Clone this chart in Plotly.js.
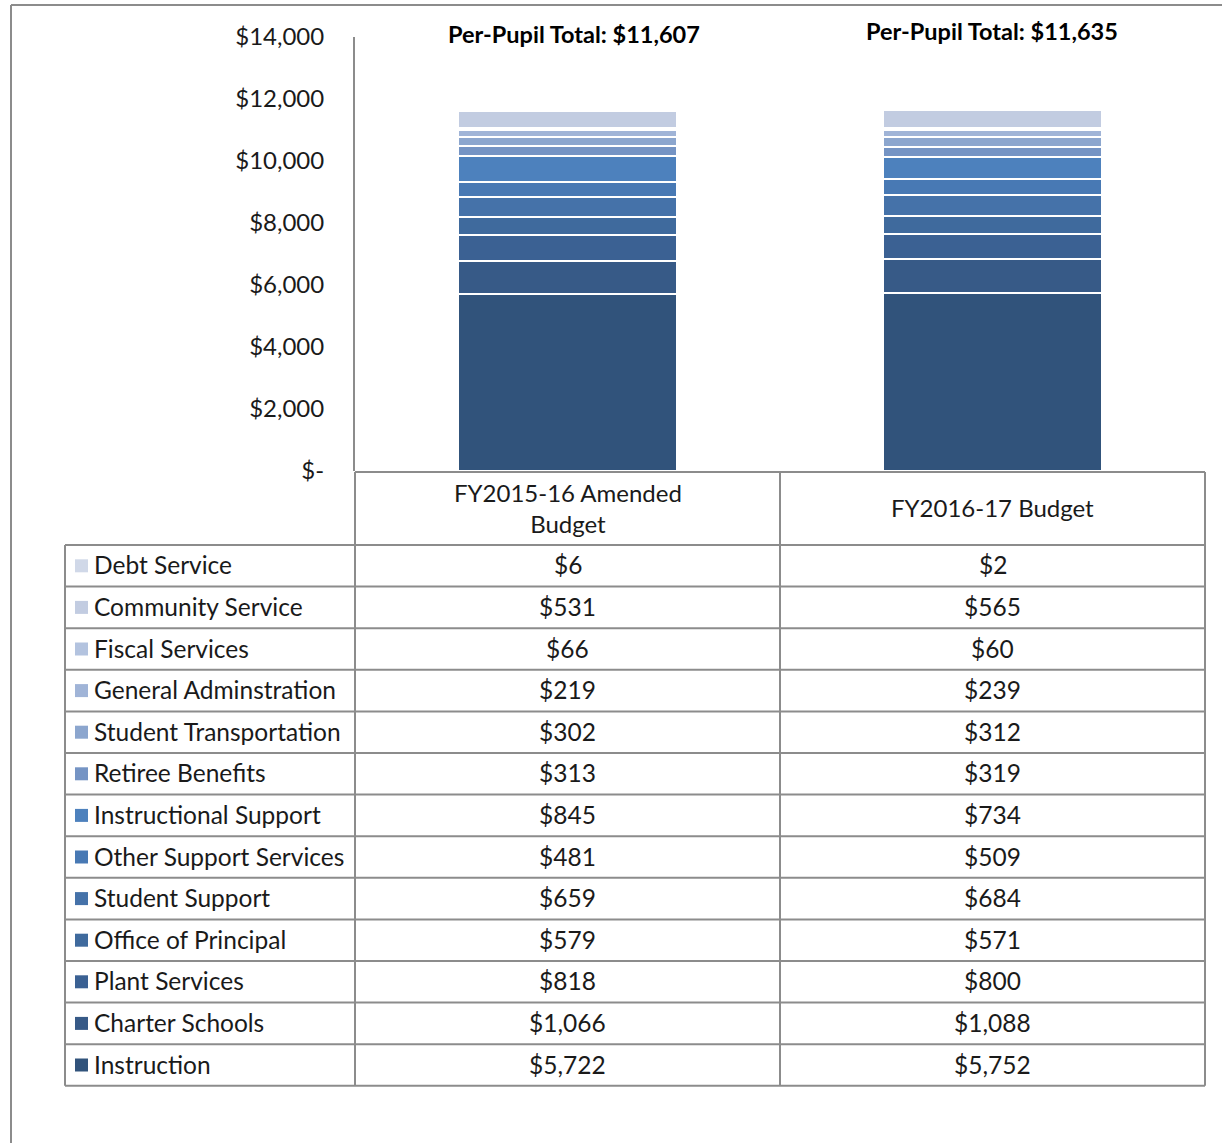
<!DOCTYPE html>
<html>
<head>
<meta charset="utf-8">
<script src="https://cdn.plot.ly/plotly-3.0.1.min.js"></script>
<style>
  html, body { margin: 0; padding: 0; background: #ffffff; }
  #chart { width: 1222px; height: 1143px; }
</style>
</head>
<body>
<div id="chart"></div>
<script>
// ---- Data (table order, top row first) ----
var budgets = ["FY2015-16 Amended<br>Budget", "FY2016-17 Budget"];
var categories = [
  "Debt Service", "Community Service", "Fiscal Services", "General Adminstration",
  "Student Transportation", "Retiree Benefits", "Instructional Support",
  "Other Support Services", "Student Support", "Office of Principal",
  "Plant Services", "Charter Schools", "Instruction"
];
var fy1516 = [6, 531, 66, 219, 302, 313, 845, 481, 659, 579, 818, 1066, 5722];
var fy1617 = [2, 565, 60, 239, 312, 319, 734, 509, 684, 571, 800, 1088, 5752];
var colors = [
  "#D0D8E8", "#C2CCE1", "#B3C3DF", "#A0B4D7", "#8CA6CE", "#7594C4", "#4D81BD",
  "#4879B4", "#4572A9", "#3F6A9D", "#3B6193", "#375A87", "#31537B"
];
var tickVals = [0, 2000, 4000, 6000, 8000, 10000, 12000, 14000];
var tickLabels = ["$-", "$2,000", "$4,000", "$6,000", "$8,000", "$10,000", "$12,000", "$14,000"];

// ---- helpers ----
var W = 1222, H = 1143;
function X(px) { return px / W; }
function Y(py) { return 1 - py / H; }
function money(v) { return "$" + v.toLocaleString("en-US"); }
var FONT = "Lato, 'Open Sans', sans-serif";
var GRID = "#8c8c8c";
var TXT = 24.5;

var seriesVals = [fy1516, fy1617];
var xcats = [0, 1];

// ---- stacked bar traces (bottom of stack first) ----
var traces = [];
for (var i = categories.length - 1; i >= 0; i--) {
  traces.push({
    type: "bar",
    name: categories[i],
    x: xcats,
    y: [fy1516[i], fy1617[i]],
    width: 0.515,
    marker: { color: colors[i], line: { color: "#ffffff", width: 2 } },
    hoverinfo: "name+y",
    showlegend: false
  });
}

// ---- table geometry ----
var headTop = 472, headBot = 545, rowH = 41.6;
var leftX = 65, axisX = 355, midX = 780, rightX = 1205;
var tableBot = headBot + rowH * categories.length;

var shapes = [];
function hline(y, x0, x1) {
  shapes.push({ type: "line", xref: "paper", yref: "paper", x0: X(x0), x1: X(x1), y0: Y(y), y1: Y(y),
    line: { color: GRID, width: 2 } });
}
function vline(x, y0, y1) {
  shapes.push({ type: "line", xref: "paper", yref: "paper", x0: X(x), x1: X(x), y0: Y(y0), y1: Y(y1),
    line: { color: GRID, width: 2 } });
}
// outer chart frame
hline(5, 11, 1222);
vline(11, 5, 1143);
// table lines
hline(headTop, axisX, rightX);
for (var r = 0; r <= categories.length; r++) {
  hline(headBot + rowH * r, leftX, rightX);
}
vline(leftX, headBot, tableBot);
vline(axisX, headTop, tableBot);
vline(midX, headTop, tableBot);
vline(rightX, headTop, tableBot);

var annotations = [];
// header labels
for (var c = 0; c < budgets.length; c++) {
  annotations.push({
    xref: "x", yref: "paper", x: xcats[c], y: Y((headTop + headBot) / 2 - 1),
    text: budgets[c], showarrow: false, xanchor: "center", yanchor: "middle",
    font: { family: FONT, size: 24, color: "#1a1a1a" }
  });
}
// rows
for (var k = 0; k < categories.length; k++) {
  var cy = headBot + rowH * k + rowH / 2;
  shapes.push({ type: "rect", xref: "paper", yref: "paper",
    x0: X(75), x1: X(88), y0: Y(cy + 6.5), y1: Y(cy - 6.5),
    fillcolor: colors[k], line: { width: 0 } });
  annotations.push({
    xref: "paper", yref: "paper", x: X(92), y: Y(cy - 1),
    text: categories[k], showarrow: false, xanchor: "left", yanchor: "middle",
    font: { family: FONT, size: TXT, color: "#1a1a1a" }
  });
  for (var c2 = 0; c2 < seriesVals.length; c2++) {
    annotations.push({
      xref: "x", yref: "paper", x: xcats[c2], y: Y(cy - 1),
      text: money(seriesVals[c2][k]), showarrow: false, xanchor: "center", yanchor: "middle",
      font: { family: FONT, size: TXT, color: "#1a1a1a" }
    });
  }
}
// totals
var totalY = [34, 31];
var totalXpx = [574, 992];
for (var t = 0; t < seriesVals.length; t++) {
  var sum = seriesVals[t].reduce(function (a, b) { return a + b; }, 0);
  annotations.push({
    xref: "paper", yref: "paper", x: X(totalXpx[t]), y: Y(totalY[t]),
    text: "<b>Per-Pupil Total: " + money(sum) + "</b>", showarrow: false,
    xanchor: "center", yanchor: "middle",
    font: { family: FONT, size: 23.5, color: "#000000" }
  });
}

var layout = {
  width: W, height: H,
  margin: { l: 0, r: 0, t: 0, b: 0 },
  paper_bgcolor: "#ffffff",
  plot_bgcolor: "#ffffff",
  barmode: "stack",
  font: { family: FONT, color: "#1a1a1a" },
  xaxis: {
    domain: [X(axisX), X(rightX)],
    range: [-0.5, 1.5],
    showticklabels: false, ticks: "",
    showgrid: false, zeroline: false,
    showline: false, fixedrange: true
  },
  yaxis: {
    domain: [Y(471), Y(37)],
    range: [0, 14000],
    tickvals: tickVals, ticktext: tickLabels,
    ticks: "", ticklabelstandoff: 24,
    tickfont: { family: FONT, size: 24, color: "#1a1a1a" },
    showgrid: false, zeroline: false,
    showline: true, linecolor: GRID, linewidth: 2, fixedrange: true
  },
  shapes: shapes,
  annotations: annotations,
  showlegend: false
};

Plotly.newPlot("chart", traces, layout, { displayModeBar: false, staticPlot: true });
</script>
</body>
</html>
